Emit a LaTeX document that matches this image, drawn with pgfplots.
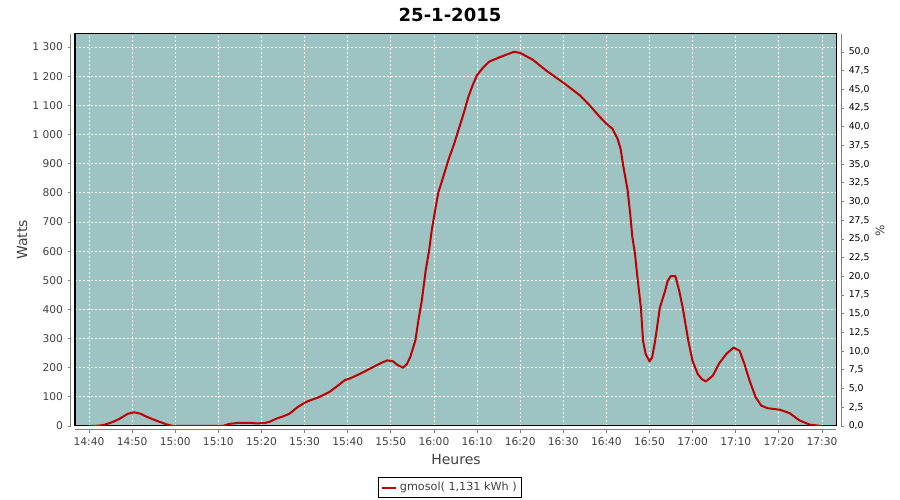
\documentclass[border=0pt]{standalone}
\usepackage{fontspec}
\setmainfont{DejaVu Sans}
\usepackage{pgfplots}
\pgfplotsset{compat=1.18}
\definecolor{bgc}{RGB}{157,195,194}
\definecolor{linec}{RGB}{190,0,0}
\definecolor{tickc}{RGB}{64,64,64}
\definecolor{axc}{RGB}{128,128,128}
\begin{document}
\begin{tikzpicture}[x=1pt,y=1pt]
\useasboundingbox (0,0) rectangle (675,375);
\begin{axis}[
  at={(56.25pt,55.5pt)}, anchor=south west,
  scale only axis, width=570.75pt, height=294pt,
  xmin=-3.25, xmax=173.25, ymin=0, ymax=1345,
  axis background/.style={fill=bgc},
  axis line style={black, line width=0.75pt},
  xtick={0,10,...,170},
  xticklabels={14:40,14:50,15:00,15:10,15:20,15:30,15:40,15:50,16:00,16:10,16:20,16:30,16:40,16:50,17:00,17:10,17:20,17:30},
  ytick={0,100,...,1300},
  xtick pos=bottom, ytick pos=left,
  tick align=outside, major tick length=2.3pt,
  xtick style={draw=axc, line width=0.6pt, yshift=-3pt},
  ytick style={draw=axc, line width=0.6pt, xshift=-3.2pt},
  xticklabel style={yshift=-3pt},
  yticklabel style={xshift=-3.2pt},
  tick label style={font=\fontsize{8}{10}\selectfont, text=tickc},
  /pgf/number format/assume math mode=true,
  /pgf/number format/1000 sep={\ },
  scaled y ticks=false,
  grid=major,
  major grid style={white, line width=0.6pt, dash pattern=on 1.5pt off 1.5pt},
  title={25-1-2015},
  every axis title/.style={at={(axis description cs:0.4928,1.0485)}, anchor=center, font=\bfseries\fontsize{13.5}{16}\selectfont},
  xlabel={Heures},
  every axis x label/.style={at={(axis description cs:0.5007,-0.0867)}, anchor=center, font=\fontsize{10.5}{12}\selectfont, text=tickc},
  ylabel={Watts},
  every axis y label/.style={at={(axis description cs:-0.0696,0.4745)}, rotate=90, anchor=center, font=\fontsize{10.5}{12}\selectfont, text=tickc},
  legend style={at={(axis description cs:0.4928,-0.157)}, anchor=center, draw=black, line width=0.6pt, font=\fontsize{8.4}{10}\selectfont, text=tickc, inner sep=1.5pt},
  legend image code/.code={\draw[#1] (0pt,0pt) -- (11pt,0pt);},
  after end axis/.code={
    \draw[axc, line width=0.75pt] ([xshift=-3.2pt]rel axis cs:0,0) -- ([xshift=-3.2pt]rel axis cs:0,1);
    \draw[axc, line width=0.75pt] ([yshift=-3pt]rel axis cs:0,0) -- ([yshift=-3pt]rel axis cs:1,0);
    \draw[axc, line width=0.75pt] ([xshift=3.75pt]rel axis cs:1,0) -- ([xshift=3.75pt]rel axis cs:1,1);
  },
]
\addplot[linec, line width=1.5pt, line join=round] coordinates {
(0,0) (2,1) (3.3,3) (4.8,10) (6,17) (7.1,25) (8,33) (9,42) (10.5,47) (12,42) (13.2,33) (14.5,25) (15.5,19) (16.8,12) (17.9,6) (19.4,0) (31,0) (32.5,7) (34.8,11) (37.5,11) (38.7,9) (40.7,10) (42,15) (43.4,25) (45,33) (46.5,42) (48.4,65) (50.4,83) (53.5,100) (55.8,117) (58.1,143) (59.3,157) (60.5,163) (63,180) (66,203) (68,218) (69.2,225) (70.5,222) (71.5,210) (72.8,200) (73.7,212) (74.5,236) (75.7,294) (76.4,363) (77.2,432) (78.1,535) (78.9,604) (79.5,673) (80.3,742) (81,800) (82.2,857) (83.4,915) (84.6,964) (85.7,1016) (86.9,1073) (88,1130) (89,1170) (90,1204) (91.3,1228) (92.8,1250) (95.2,1265) (97.5,1278) (98.6,1284) (100,1280) (102.9,1257) (106,1220) (110,1178) (113.9,1134) (116,1102) (118.5,1060) (120,1037) (121.4,1020) (122.6,985) (123.3,950) (123.9,893) (124.9,811) (125.5,731) (126,650) (126.6,594) (127.2,510) (128,406) (128.5,292) (129.1,247) (130,222) (130.6,235) (131.3,292) (132.4,406) (133.6,463) (134.2,497) (134.9,514) (136,514) (136.9,463) (137.7,406) (139,292) (140,222) (141.2,178) (142.2,160) (143.1,153) (144.7,173) (146.2,216) (147.8,247) (149.5,269) (150.9,258) (152,213) (153.2,156) (154.6,99) (155.9,70) (157.4,61) (160.2,56) (162.5,44) (164.8,19) (167.1,5) (169.8,0)
};
\addlegendentry{gmosol( 1,131 kWh )}
\end{axis}
\begin{axis}[
  at={(56.25pt,55.5pt)}, anchor=south west,
  scale only axis, width=570.75pt, height=294pt,
  xmin=-3.25, xmax=173.25, ymin=0, ymax=52.4,
  hide x axis,
  axis y line*=right,
  y axis line style={draw=none},
  ytick={0,2.5,...,50},
  tick align=outside, major tick length=2.3pt,
  ytick style={draw=axc, line width=0.6pt, xshift=3.75pt},
  yticklabel style={xshift=3.75pt, font=\fontsize{7}{9}\selectfont, text=black,
    /pgf/number format/.cd, fixed, fixed zerofill, precision=1, use comma, assume math mode=true},
  ylabel={\%},
  every axis y label/.style={at={(axis description cs:1.0578,0.4974)}, rotate=90, anchor=center, font=\fontsize{9}{11}\selectfont, text=tickc},
]
\addplot[draw=none] coordinates {(0,0)};
\end{axis}
\end{tikzpicture}
\end{document}
